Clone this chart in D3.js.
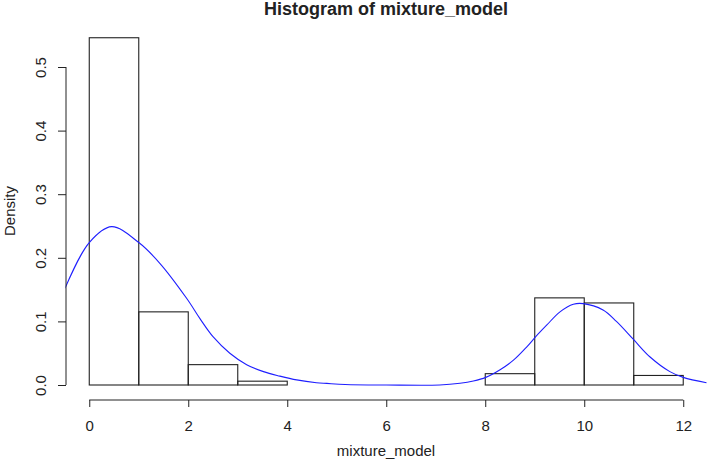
<!DOCTYPE html>
<html lang="en">
<head>
    <meta charset="UTF-8">
    <script src="https://d3js.org/d3.v7.min.js"></script>
    <style>
        body { margin: 0; background: #fff; }
        svg { font-family: "Liberation Sans", Arial, sans-serif; }
    </style>
</head>
<body>
    <script>
        // histogram data
        const breaks = [0, 1, 2, 3, 4, 5, 6, 7, 8, 9, 10, 11, 12];
        const densities = [0.546, 0.115, 0.032, 0.006, 0, 0, 0, 0, 0.0178, 0.137, 0.129, 0.015];

        // blue density curve
        const curveX = [-0.49, 0, 0.45, 1.0, 1.43, 1.97, 2.24, 2.5, 2.84, 3.18, 3.52, 3.85, 4.19, 4.59, 4.8, 5.17, 6.0, 7.08,
                        7.49, 7.76, 8.01, 8.30, 8.57, 8.84, 9.02, 9.24, 9.51, 9.78, 9.98, 10.38, 10.65, 10.99, 11.33, 11.73, 12.0, 12.47];
        const curveY = [0.152, 0.224, 0.249, 0.224, 0.191, 0.136, 0.104, 0.076, 0.050, 0.032, 0.021, 0.014, 0.008, 0.0036, 0.0025, 0.0008, 0, 0,
                        0.0027, 0.0063, 0.012, 0.024, 0.039, 0.060, 0.076, 0.094, 0.115, 0.127, 0.128, 0.118, 0.100, 0.072, 0.044, 0.021, 0.012, 0.0036];

        const xTicks = [0, 2, 4, 6, 8, 10, 12];
        const yTicks = [0, 0.1, 0.2, 0.3, 0.4, 0.5];

        const width = 708;
        const height = 463;

        const svg = d3.select('body')
            .append('svg')
            .attr('width', width)
            .attr('height', height);

        const x = d3.scaleLinear().domain([-0.48, 12.48]).range([65.5, 707]);
        const y = d3.scaleLinear().domain([0, 0.5]).range([385, 67]);

        const ink = '#222';

        svg.append('defs').append('clipPath')
            .attr('id', 'plotclip')
            .append('rect')
            .attr('x', x(-0.48)).attr('y', 20)
            .attr('width', x(12.48) - x(-0.48)).attr('height', 380);

        // bars
        svg.append('g').selectAll('rect')
            .data(densities)
            .enter()
            .append('rect')
            .attr('x', (d, i) => x(breaks[i]))
            .attr('y', d => y(d))
            .attr('width', (d, i) => x(breaks[i + 1]) - x(breaks[i]))
            .attr('height', d => y(0) - y(d))
            .attr('fill', 'none')
            .attr('stroke', ink)
            .attr('stroke-width', 1.1);

        // density line
        const line = d3.line()
            .x(d => x(d[0]))
            .y(d => y(Math.max(0, d[1])))
            .curve(d3.curveCatmullRom.alpha(0.5));

        svg.append('path')
            .datum(curveX.map((v, i) => [v, curveY[i]]))
            .attr('clip-path', 'url(#plotclip)')
            .attr('d', line)
            .attr('fill', 'none')
            .attr('stroke', '#1f1fff')
            .attr('stroke-width', 1.1);

        // x axis
        const gx = svg.append('g')
            .attr('transform', 'translate(0,400)')
            .call(d3.axisBottom(x).tickValues(xTicks).tickSize(7).tickPadding(13));
        gx.select('.domain').remove();
        gx.append('line')
            .attr('x1', x(xTicks[0])).attr('x2', x(xTicks[xTicks.length - 1]))
            .attr('stroke', ink);
        gx.selectAll('.tick line').attr('stroke', ink);
        gx.selectAll('text').attr('font-size', 15).attr('fill', ink).attr('font-family', null);

        // y axis
        const gy = svg.append('g')
            .attr('transform', 'translate(66,0)')
            .call(d3.axisLeft(y).tickValues(yTicks).tickFormat(d3.format('.1f')).tickSize(8));
        gy.select('.domain').remove();
        gy.append('line')
            .attr('y1', y(yTicks[0])).attr('y2', y(yTicks[yTicks.length - 1]))
            .attr('stroke', ink);
        gy.selectAll('.tick line').attr('stroke', ink);
        gy.selectAll('text')
            .attr('x', 0).attr('dy', 0)
            .attr('transform', 'translate(-20,0) rotate(-90)')
            .attr('text-anchor', 'middle')
            .attr('font-size', 15).attr('fill', ink).attr('font-family', null);

        // titles
        svg.append('text')
            .attr('x', 386).attr('y', 15)
            .attr('text-anchor', 'middle')
            .attr('font-weight', 'bold')
            .attr('font-size', 18)
            .attr('fill', ink)
            .text('Histogram of mixture_model');

        svg.append('text')
            .attr('x', 386).attr('y', 456)
            .attr('text-anchor', 'middle')
            .attr('font-size', 15)
            .attr('fill', ink)
            .text('mixture_model');

        svg.append('text')
            .attr('transform', 'translate(15,211) rotate(-90)')
            .attr('text-anchor', 'middle')
            .attr('font-size', 15)
            .attr('fill', ink)
            .text('Density');
    </script>
</body>
</html>
